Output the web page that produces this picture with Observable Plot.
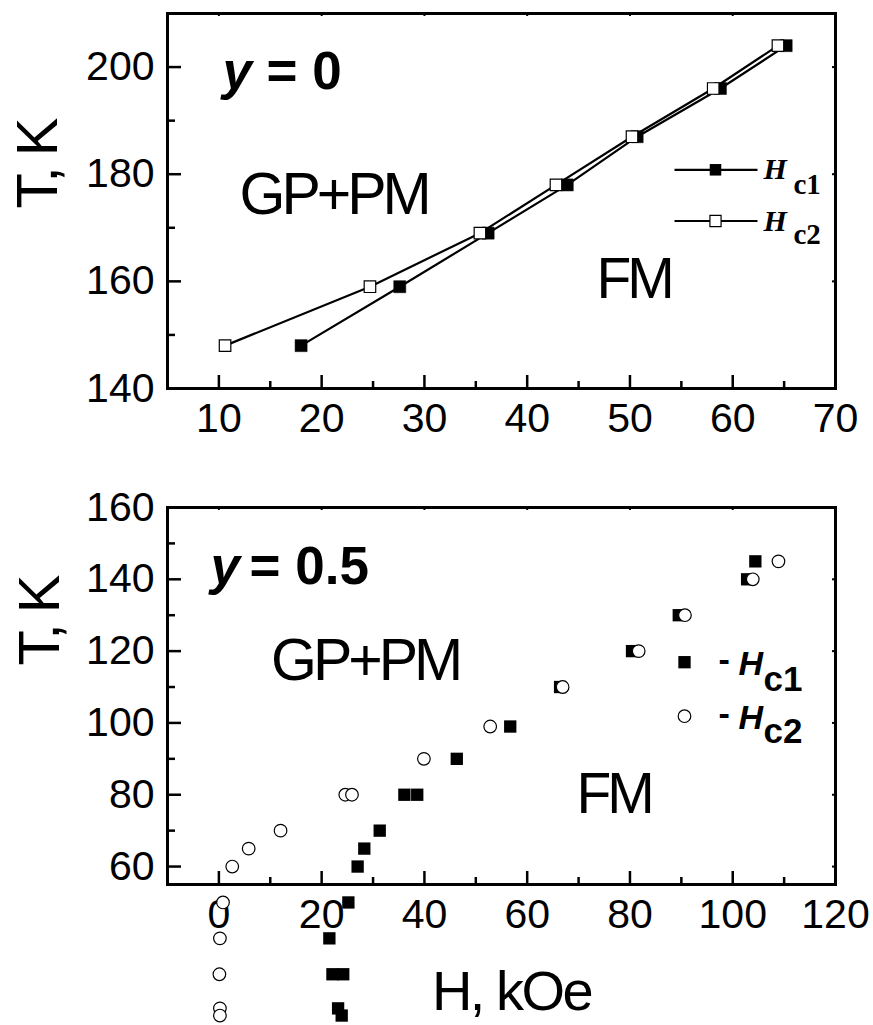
<!DOCTYPE html>
<html><head><meta charset="utf-8">
<script src="https://cdn.jsdelivr.net/npm/d3@7"></script>
<script src="https://cdn.jsdelivr.net/npm/@observablehq/plot@0.6"></script>
<style>
body{margin:0;background:#fff;}
#chart svg{display:block;}
g[aria-description="tight"] text{letter-spacing:-4px;}
g[aria-description="tightT"] text{letter-spacing:-3px;}
g[aria-description="tightH"] text{letter-spacing:-2.5px;}
</style></head><body><div id="chart"></div>
<script>
const font = "'Liberation Sans', Arial, Helvetica, sans-serif";
const serif = "'Liberation Serif', 'Times New Roman', serif";

// ---- Top panel (y = 0) ----
const topT   = [148, 159, 169, 178, 187, 196, 204];
const topHc1 = [18.0, 27.6, 36.2, 43.9, 50.7, 58.8, 65.2];
const topHc2 = [10.6, 24.7, 35.4, 42.8, 50.2, 58.1, 64.4];
const topXTicks = [10, 20, 30, 40, 50, 60, 70];
const topXMinor = [15, 25, 35, 45, 55, 65];
const topYTicks = [140, 160, 180, 200];
const topYMinor = [150, 170, 190];

// ---- Bottom panel (y = 0.5) ----
const botT1 = [145, 140, 130, 120, 110, 99, 90, 80, 80, 70, 65, 60, 50, 40, 30, 30, 20.5, 18.5];
const botH1 = [104.4, 102.8, 89.5, 80.4, 66.4, 56.7, 46.3, 36.1, 38.6, 31.3, 28.3, 27.0, 25.2, 21.5, 22.1, 24.2, 23.2, 23.9];
const botT2 = [145, 140, 130, 120, 110, 99, 90, 80, 80, 70, 65, 60, 50, 40, 30, 20.5, 18.5];
const botH2 = [108.9, 103.9, 90.7, 81.7, 66.9, 52.8, 39.9, 24.6, 25.9, 12.0, 5.8, 2.6, 0.8, 0.2, 0.1, 0.2, 0.2];
const botXTicks = [0, 20, 40, 60, 80, 100, 120];
const botXMinor = [10, 30, 50, 70, 90, 110];
const botYTicks = [60, 80, 100, 120, 140, 160];
const botYMinor = [70, 90, 110, 130, 150];

const topData = topT.map((T, i) => ({T, h1: topHc1[i], h2: topHc2[i]}));
const bot1 = botT1.map((T, i) => ({T, H: botH1[i]}));
const bot2 = botT2.map((T, i) => ({T, H: botH2[i]}));

const hbar = {draw(ctx) { ctx.moveTo(-41.5, 0); ctx.lineTo(41.5, 0); }};

// fw, fh: inner frame width / height in px (used only for tick lengths)
function axesMarks(xT, xM, yT, yM, fw, fh) {
  const tk = {stroke: "black", strokeWidth: 2.5};
  return [
    Plot.tickX(xT, {x: d => d, insetTop: fh - 13, ...tk}),
    Plot.tickX(xM, {x: d => d, insetTop: fh - 7, ...tk}),
    Plot.tickY(yT, {y: d => d, insetRight: fw - 14, ...tk}),
    Plot.tickY(yM, {y: d => d, insetRight: fw - 8, ...tk}),
    Plot.tickX(xT, {x: d => d, insetBottom: fh - 3, stroke: "black", strokeWidth: 2}),
    Plot.tickY(yT, {y: d => d, insetLeft: fw - 3, stroke: "black", strokeWidth: 2}),
    Plot.axisX(xT, {tickSize: 0, tickPadding: 14, fontSize: 41, fontFamily: font, label: null}),
    Plot.axisY(yT, {tickSize: 0, tickPadding: 13, fontSize: 41, fontFamily: font, label: null}),
    Plot.frame({stroke: "black", strokeWidth: 3})
  ];
}

const bold = {fontFamily: font, fontWeight: "bold", textAnchor: "start", lineAnchor: "bottom", fill: "black"};
const reg = {fontFamily: font, textAnchor: "start", lineAnchor: "bottom", fill: "black"};
const ser = {fontFamily: serif, fontWeight: "bold", textAnchor: "start", lineAnchor: "bottom", fontSize: 29, fill: "black", frameAnchor: "top-right"};

const topPlot = Plot.plot({
  width: 873, height: 450,
  marginLeft: 167, marginRight: 38, marginTop: 13, marginBottom: 62,
  style: {fontFamily: font, background: "white", overflow: "visible"},
  x: {domain: [5, 70], axis: null},
  y: {domain: [140, 210], axis: null},
  marks: [
    ...axesMarks(topXTicks, topXMinor, topYTicks, topYMinor, 668, 375),
    Plot.line(topData, {x: "h1", y: "T", stroke: "black", strokeWidth: 2.2}),
    Plot.line(topData, {x: "h2", y: "T", stroke: "black", strokeWidth: 2.2}),
    Plot.dot(topData, {x: "h1", y: "T", symbol: "square", r: 6.8, fill: "black", stroke: "black", strokeWidth: 0.5}),
    Plot.dot(topData, {x: "h2", y: "T", symbol: "square", r: 6.5, fill: "white", stroke: "black", strokeWidth: 1.2}),
    // annotations
    Plot.text(["y"], {...bold, frameAnchor: "top-left", dx: 55, dy: 75, fontSize: 53, fontStyle: "italic"}),
    Plot.text(["= 0"], {...bold, frameAnchor: "top-left", dx: 99, dy: 75, fontSize: 53}),
    Plot.text(["GP+PM"], {...reg, frameAnchor: "top-left", dx: 72, dy: 200, fontSize: 59, ariaDescription: "tight"}),
    Plot.text(["FM"], {...reg, frameAnchor: "top-left", dx: 429, dy: 284, fontSize: 57, ariaDescription: "tight"}),
    Plot.text(["T, K"], {fontFamily: font, frameAnchor: "left", dx: -129.5, dy: 7.5, rotate: -90, fontSize: 58, ariaDescription: "tightT", fill: "black"}),
    // legend
    Plot.dot([0], {frameAnchor: "top-right", dx: -119.5, dy: 156.3, symbol: hbar, fill: "none", stroke: "black", strokeWidth: 2.2}),
    Plot.dot([0], {frameAnchor: "top-right", dx: -120, dy: 156.3, symbol: "square", r: 6.5, fill: "black"}),
    Plot.dot([0], {frameAnchor: "top-right", dx: -119.5, dy: 207.5, symbol: hbar, fill: "none", stroke: "black", strokeWidth: 2.2}),
    Plot.dot([0], {frameAnchor: "top-right", dx: -120, dy: 207.5, symbol: "square", r: 6.3, fill: "white", stroke: "black", strokeWidth: 1.2}),
    Plot.text(["H"], {...ser, dx: -72, dy: 165, fontStyle: "italic", fontSize: 30}),
    Plot.text(["c1"], {...ser, dx: -42, dy: 180}),
    Plot.text(["H"], {...ser, dx: -72, dy: 217, fontStyle: "italic", fontSize: 30}),
    Plot.text(["c2"], {...ser, dx: -42, dy: 230})
  ]
});

const botPlot = Plot.plot({
  width: 873, height: 575,
  marginLeft: 167, marginRight: 38, marginTop: 57, marginBottom: 141,
  style: {fontFamily: font, background: "white", overflow: "visible"},
  x: {domain: [-10, 120], axis: null},
  y: {domain: [55, 160], axis: null},
  marks: [
    ...axesMarks(botXTicks, botXMinor, botYTicks, botYMinor, 668, 377),
    Plot.dot(bot1, {x: "H", y: "T", symbol: "square", r: 6.95, fill: "black"}),
    Plot.dot(bot2, {x: "H", y: "T", symbol: "circle", r: 6.3, fill: "white", stroke: "black", strokeWidth: 1.2}),
    // annotations
    Plot.text(["y"], {...bold, frameAnchor: "top-left", dx: 43, dy: 76, fontSize: 53, fontStyle: "italic"}),
    Plot.text(["= 0.5"], {...bold, frameAnchor: "top-left", dx: 82, dy: 76, fontSize: 53}),
    Plot.text(["GP+PM"], {...reg, frameAnchor: "top-left", dx: 103.5, dy: 172.5, fontSize: 59, ariaDescription: "tight"}),
    Plot.text(["FM"], {...reg, frameAnchor: "top-left", dx: 409, dy: 305, fontSize: 57, ariaDescription: "tight"}),
    Plot.text(["T, K"], {fontFamily: font, frameAnchor: "left", dx: -127, dy: -30.5, rotate: -90, fontSize: 58, ariaDescription: "tightT", fill: "black"}),
    Plot.text(["H, kOe"], {fontFamily: font, frameAnchor: "bottom", dx: 10, dy: 125, lineAnchor: "bottom", textAnchor: "middle", fontSize: 56, ariaDescription: "tightH", fill: "black"}),
    // legend
    Plot.dot([0], {frameAnchor: "top-right", dx: -151, dy: 154.7, symbol: "square", r: 6.95, fill: "black"}),
    Plot.dot([0], {frameAnchor: "top-right", dx: -151, dy: 208.7, symbol: "circle", r: 6.3, fill: "white", stroke: "black", strokeWidth: 1.2}),
    Plot.text(["-"], {...bold, frameAnchor: "top-right", dx: -117, dy: 163.7, fontSize: 34}),
    Plot.text(["H"], {...bold, frameAnchor: "top-right", dx: -97, dy: 167, fontSize: 34, fontStyle: "italic"}),
    Plot.text(["c1"], {...bold, frameAnchor: "top-right", dx: -72, dy: 183, fontSize: 35}),
    Plot.text(["-"], {...bold, frameAnchor: "top-right", dx: -117, dy: 217.7, fontSize: 34}),
    Plot.text(["H"], {...bold, frameAnchor: "top-right", dx: -97, dy: 221, fontSize: 34, fontStyle: "italic"}),
    Plot.text(["c2"], {...bold, frameAnchor: "top-right", dx: -72, dy: 235, fontSize: 35})
  ]
});

const chart = document.getElementById("chart");
chart.appendChild(topPlot);
chart.appendChild(botPlot);
</script></body></html>
